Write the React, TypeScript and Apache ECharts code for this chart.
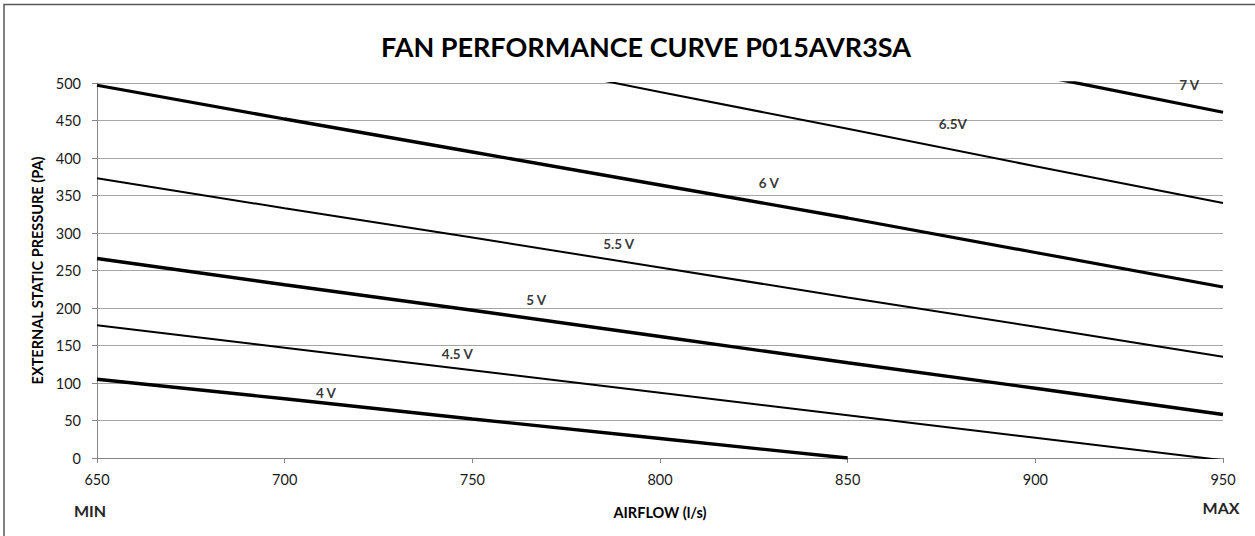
import React, { useEffect, useRef } from "react";
import * as echarts from "echarts";

const airflow = [650, 700, 750, 800, 850, 900, 950];
const v4 = [105, 79, 52, 26, 0];
const v45 = [177, 147, 117, 87, 57, 27, -3];
const v5 = [266, 231, 197, 162, 127, 93, 58];
const v55 = [373, 333, 294, 254, 214, 175, 135];
const v6 = [497, 452, 408, 364, 320, 274, 228];
const v65 = [637, 588, 538, 488, 439, 389, 340];
const v7 = [772, 720, 668, 616, 564, 511, 461];

const seriesNames = ["4 V", "4.5 V", "5 V", "5.5 V", "6 V", "6.5V", "7 V"];
const seriesValues = [v4, v45, v5, v55, v6, v65, v7];
const thickSeries = [true, false, true, false, true, false, true];

const labelText = ["4 V", "4.5 V", "5 V", "5.5 V", "6 V", "6.5V", "7 V"];
const labelX = [711, 746, 767, 789, 829, 878, 941];
const labelY = [87, 139, 211, 285, 367, 446, 497];

const FONT = "Lato";

export default function App() {
  const ref = useRef<HTMLDivElement>(null);
  useEffect(() => {
    if (!ref.current) return;
    const chart = echarts.init(ref.current, undefined, { renderer: "svg" });
    const lineSeries = seriesNames.map((name, i) => ({
      name,
      type: "line",
      data: seriesValues[i].map((v, j) => [airflow[j], v]),
      showSymbol: false,
      symbol: "none",
      clip: true,
      lineStyle: { color: "#000", width: thickSeries[i] ? 3.3 : 2 },
      silent: true,
      z: 3,
    }));
    chart.setOption({
      animation: false,
      backgroundColor: "#fff",
      title: {
        text: "FAN PERFORMANCE CURVE P015AVR3SA",
        left: 641,
        top: 28,
        textAlign: "center",
        textStyle: { fontFamily: FONT, fontWeight: "bold", fontSize: 27, color: "#000" },
      },
      grid: { left: 97, right: 32, top: 83, bottom: 78, containLabel: false },
      xAxis: {
        type: "value",
        min: 650,
        max: 950,
        interval: 50,
        name: "AIRFLOW (l/s)",
        nameLocation: "middle",
        nameGap: 47,
        nameTextStyle: { fontFamily: FONT, fontWeight: "bold", fontSize: 14.5, color: "#000" },
        axisLine: { show: true, lineStyle: { color: "#868686", width: 1 } },
        axisTick: { show: true, length: 5, lineStyle: { color: "#868686" } },
        axisLabel: { margin: 14, fontFamily: FONT, fontSize: 14.5, color: "#1a1a1a" },
        splitLine: { show: false },
      },
      yAxis: {
        type: "value",
        min: 0,
        max: 500,
        interval: 50,
        name: "EXTERNAL STATIC PRESSURE (PA)",
        nameLocation: "middle",
        nameGap: 50,
        nameRotate: 90,
        nameTextStyle: { fontFamily: FONT, fontWeight: "bold", fontSize: 14.5, color: "#000" },
        axisLine: { show: true, lineStyle: { color: "#868686", width: 1 } },
        axisTick: { show: true, length: 5, lineStyle: { color: "#868686" } },
        axisLabel: { margin: 16, fontFamily: FONT, fontSize: 14.5, color: "#1a1a1a" },
        splitLine: { show: true, lineStyle: { color: "#a6a6a6", width: 1 } },
      },
      series: [
        ...lineSeries,
        {
          type: "scatter",
          symbolSize: 0,
          silent: true,
          z: 5,
          data: labelText.map((t, i) => ({ name: t, value: [labelX[i], labelY[i]] })),
          label: {
            show: true,
            position: "inside",
            formatter: (p: any) => p.name,
            fontFamily: FONT,
            fontWeight: "bold",
            fontSize: 13.5,
            color: "#000",
          },
        },
      ],
      graphic: [
        {
          type: "rect",
          shape: { x: 4, y: 4.5, width: 1400, height: 700 },
          style: { fill: "none", stroke: "#595959", lineWidth: 1.5 },
          silent: true,
        },
        {
          type: "text",
          x: 90,
          y: 510,
          style: {
            text: "MIN",
            align: "center",
            verticalAlign: "middle",
            fontFamily: FONT,
            fontWeight: "bold",
            fontSize: 16,
            fill: "#262626",
          },
        },
        {
          type: "text",
          x: 1221,
          y: 507,
          style: {
            text: "MAX",
            align: "center",
            verticalAlign: "middle",
            fontFamily: FONT,
            fontWeight: "bold",
            fontSize: 16,
            fill: "#262626",
          },
        },
      ],
    });
    return () => chart.dispose();
  }, []);
  return (
    <div
      ref={ref}
      style={{ position: "fixed", left: 0, top: 0, width: 1255, height: 536, background: "#fff" }}
    />
  );
}
